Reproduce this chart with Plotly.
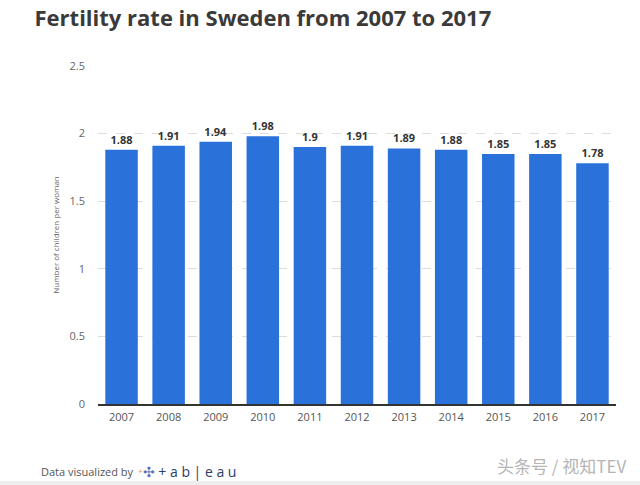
import plotly.graph_objects as go

years = ["2007", "2008", "2009", "2010", "2011", "2012", "2013", "2014", "2015", "2016", "2017"]
rates = [1.88, 1.91, 1.94, 1.98, 1.9, 1.91, 1.89, 1.88, 1.85, 1.85, 1.78]
rate_labels = ["1.88", "1.91", "1.94", "1.98", "1.9", "1.91", "1.89", "1.88", "1.85", "1.85", "1.78"]
y_ticks = [0, 0.5, 1, 1.5, 2, 2.5]
y_tick_labels = ["0", "0.5", "1", "1.5", "2", "2.5"]

fig = go.Figure(go.Bar(
    x=years, y=rates,
    text=["<b>%s</b>" % t for t in rate_labels], textposition="outside",
    textfont=dict(family="Open Sans", size=11, color="#333333"),
    marker=dict(color="#2a72d9", line=dict(width=0)),
    cliponaxis=False,
))

fig.update_layout(
    width=640, height=485,
    margin=dict(l=98, r=24, t=66, b=81),
    paper_bgcolor="white", plot_bgcolor="white",
    bargap=0.31,
    showlegend=False,
    title=dict(text="<b>Fertility rate in Sweden from 2007 to 2017</b>",
               x=0.054, xanchor="left", y=0.963, yanchor="middle",
               font=dict(family="Open Sans", size=22, color="#3a3a3a")),
    font=dict(family="Open Sans", color="#555555"),
)
fig.update_xaxes(
    showgrid=False, showline=True, linecolor="#333333", linewidth=2,
    tickfont=dict(size=11, color="#555555"), ticks="", ticklabelstandoff=2,
)
fig.update_yaxes(
    range=[0, 2.5], tickvals=y_ticks, ticktext=y_tick_labels,
    showgrid=True, gridcolor="#dcdcdc", griddash="dash", gridwidth=1,
    zeroline=False, showline=False,
    tickfont=dict(size=11, color="#666666"), ticklabelstandoff=12,
    title=dict(text="Number of children per woman", font=dict(size=8, color="#666666"), standoff=8),
)
fig.add_annotation(text="Data visualized by", xref="paper", yref="paper",
                   x=(39 - 98) / 518, y=(404 - 471) / 338, xanchor="left", yanchor="middle", showarrow=False,
                   font=dict(family="Open Sans", size=11, color="#555555"))
fig.add_annotation(text="<span style='color:#e8a33a'>⁺</span><span style='color:#5b6fb5'>✣</span> + a b | e a u",
                   xref="paper", yref="paper",
                   x=(136 - 98) / 518, y=(404 - 471) / 338, xanchor="left", yanchor="middle", showarrow=False,
                   font=dict(family="Open Sans", size=14, color="#2c3e66"))
fig.add_annotation(text="头条号 / 视知TEV", xref="paper", yref="paper",
                   x=(628 - 98) / 518, y=(404 - 465) / 338, xanchor="right", yanchor="middle", showarrow=False,
                   font=dict(family="Noto Sans CJK SC", size=17, color="#b5b5b5"))
fig.add_shape(type="rect", xref="paper", yref="paper", x0=-0.2, x1=1.1,
              y0=(404 - 481) / 338, y1=(404 - 490) / 338,
              fillcolor="#eeeeee", line=dict(width=0), layer="below")

fig.write_html("out.html", config={"displayModeBar": False},
               post_script="document.body.style.margin='0px';")
